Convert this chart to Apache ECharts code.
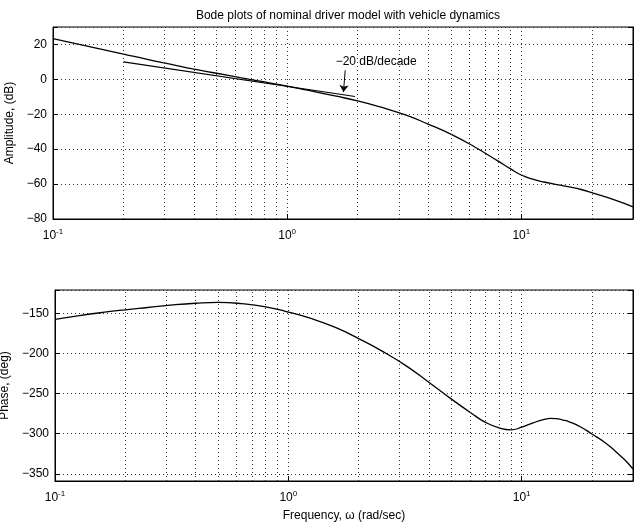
<!DOCTYPE html>
<html>
<head>
<meta charset="utf-8">
<script src="https://cdn.jsdelivr.net/npm/echarts@6/dist/echarts.min.js"></script>
<style>
html,body{margin:0;padding:0;background:#fff}
#main{width:636px;height:523px}
</style>
</head>
<body>
<div id="main"></div>
<script>
// amplitude curve (dB) vs frequency (rad/sec)
var ampFreq = [0.1, 0.125, 0.16, 0.2, 0.25, 0.32, 0.4, 0.5, 0.63, 0.8, 1, 1.25, 1.6, 2, 2.5, 3.2, 4, 5, 6.3, 8, 9, 10, 11.2, 12.5, 14, 16, 18, 20, 25, 30];
var ampDb   = [23.4, 20.5, 17.3, 14.5, 11.6, 8.6, 5.9, 3.5, 1.0, -1.5, -3.9, -6.5, -9.5, -12.3, -15.8, -20.4, -25.6, -31.4, -38.6, -47, -51.3, -54.8, -57.2, -58.8, -60.1, -61.6, -63.1, -64.9, -69, -73];

// -20 dB/decade reference line
var asymFreq = [0.2, 1.95];
var asymDb   = [10, -9.8];

// phase curve (deg)
var phFreq = [0.1, 0.125, 0.16, 0.2, 0.25, 0.32, 0.4, 0.5, 0.63, 0.8, 1, 1.25, 1.6, 2, 2.5, 3.2, 4, 5, 6.3, 7, 8, 9, 10, 11.2, 12.5, 13.3, 14, 15, 16, 18, 20, 22.5, 25, 27.5, 30];
var phDeg  = [-157.5, -153.2, -149.0, -145.7, -142.8, -139.6, -137.5, -136.4, -138, -142, -148.5, -156.5, -168, -181.5, -196.5, -215.5, -236, -257, -277.5, -286, -292.8, -295.2, -292, -286.5, -282.2, -281, -281.3, -283, -285.3, -292, -300.5, -310, -321, -332, -344];

// vertical grid lines between decades
var minorFreqs = [0.2,0.3,0.4,0.5,0.6,0.7,0.8,0.9,2,3,4,5,6,7,8,9,20];

var FONT = 'Liberation Sans, Arial, Helvetica, sans-serif';

function decadeLabel(v)
{
	var p = Math.log(v) / Math.LN10 ;
	var r = Math.round(p) ;
	if ( Math.abs(p - r) > 1e-6 ) return '' ;
	return '{b|10}{s|' + r + '}' ;
}

function minusLabel(step)
{
	return function (v) {
		if ( Math.abs(v % step) > 1e-6 ) return '' ;
		return String(v).replace('-', '\u2212') ;
	} ;
}

function toPairs(xs, ys)
{
	var out = [] ;
	for ( var i = 0 ; i < xs.length ; i++ ) out.push([xs[i], ys[i]]) ;
	return out ;
}

var minorLines = minorFreqs.map(function (f) { return { xAxis: f } ; }) ;

var dotted = { type: [1, 3], color: '#333', width: 1 } ;
var richSup = {
	b: { fontSize: 12, color: '#000', fontFamily: FONT },
	s: { fontSize: 8, color: '#000', fontFamily: FONT, padding: [0, 0, 8, 0] }
} ;

function xAx(gi, showName)
{
	return {
		type: 'log', logBase: 10, gridIndex: gi, min: 0.1, max: 30,
		axisLine: { show: true, onZero: false, lineStyle: { color: '#000', width: 1 } },
		axisTick: { show: true, inside: true, length: 5, lineStyle: { color: '#000' } },
		axisLabel: { formatter: decadeLabel, rich: richSup, margin: 9, color: '#000', showMaxLabel: false },
		splitLine: { show: true, lineStyle: dotted },
		minorTick: { show: false }, minorSplitLine: { show: false },
		name: showName ? 'Frequency, \u03c9 (rad/sec)' : '',
		nameLocation: 'middle', nameGap: 29,
		nameTextStyle: { fontSize: 12, color: '#000', fontFamily: FONT }
	} ;
}

function yAx(gi, opt, right)
{
	var a = {
		type: 'value', gridIndex: gi, position: right ? 'right' : 'left',
		axisLine: { show: true, onZero: false, lineStyle: { color: '#000', width: 1 } },
		axisTick: { show: true, inside: true, length: 5, lineStyle: { color: '#000' } },
		axisLabel: { show: !right, color: '#000', fontSize: 12, margin: 6, fontFamily: FONT },
		splitLine: { show: !right, lineStyle: dotted },
		nameLocation: 'middle',
		nameTextStyle: { fontSize: 12, color: '#000', fontFamily: FONT }
	} ;
	for ( var k in opt ) a[k] = opt[k] ;
	return a ;
}

var option = {
	backgroundColor: '#fff',
	animation: false,
	textStyle: { fontFamily: FONT, color: '#000' },
	title: {
		text: 'Bode plots of nominal driver model with vehicle dynamics',
		left: 343, top: 5, textAlign: 'center',
		textStyle: { fontSize: 12, fontWeight: 'normal', color: '#000', fontFamily: FONT }
	},
	grid: [
		{ left: 53, top: 27, width: 580, height: 192, show: true, borderColor: '#000', borderWidth: 1, outerBoundsMode: 'none', containLabel: false },
		{ left: 55, top: 290, width: 578, height: 191, show: true, borderColor: '#000', borderWidth: 1, outerBoundsMode: 'none', containLabel: false }
	],
	xAxis: [ xAx(0, false), xAx(1, true) ],
	yAxis: [
		yAx(0, { min: -80, max: 30, interval: 20, name: 'Amplitude, (dB)', nameGap: 27 }, false),
		yAx(1, { min: -359, max: -121, splitNumber: 5, name: 'Phase, (deg)', nameGap: 29 }, false),
		yAx(0, { min: -80, max: 30, interval: 20 }, true),
		yAx(1, { min: -359, max: -121, splitNumber: 5 }, true)
	],
	series: [
		{
			type: 'line', xAxisIndex: 0, yAxisIndex: 0, smooth: 0.5, symbol: 'none',
			lineStyle: { color: '#000', width: 1.3 },
			data: toPairs(ampFreq, ampDb),
			markLine: { silent: true, symbol: 'none', label: { show: false }, lineStyle: dotted, data: minorLines }
		},
		{
			type: 'line', xAxisIndex: 0, yAxisIndex: 0, symbol: 'none',
			lineStyle: { color: '#000', width: 1.1 },
			data: toPairs(asymFreq, asymDb),
			markLine: {
				silent: true, symbol: ['none', 'arrow'], symbolSize: 7,
				label: { show: false },
				lineStyle: { color: '#000', width: 1, type: 'solid' },
				data: [ [ { coord: [1.77, 5.2] }, { coord: [1.74, -7.3] } ] ]
			},
			markPoint: {
				silent: true, symbol: 'circle', symbolSize: 0,
				label: { show: true, position: 'inside', formatter: '\u221220 dB/decade', color: '#000', fontSize: 12, fontFamily: FONT },
				data: [ { coord: [2.4, 10.3] } ]
			}
		},
		{
			type: 'line', xAxisIndex: 1, yAxisIndex: 1, smooth: 0.5, symbol: 'none',
			lineStyle: { color: '#000', width: 1.3 },
			data: toPairs(phFreq, phDeg),
			markLine: { silent: true, symbol: 'none', label: { show: false }, lineStyle: dotted, data: minorLines }
		}
	]
} ;

option.yAxis[0].axisLabel.formatter = minusLabel(20) ;
option.yAxis[1].axisLabel.formatter = minusLabel(50) ;

var myChart = echarts.init(document.getElementById('main')) ;
myChart.setOption(option) ;
</script>
</body>
</html>
